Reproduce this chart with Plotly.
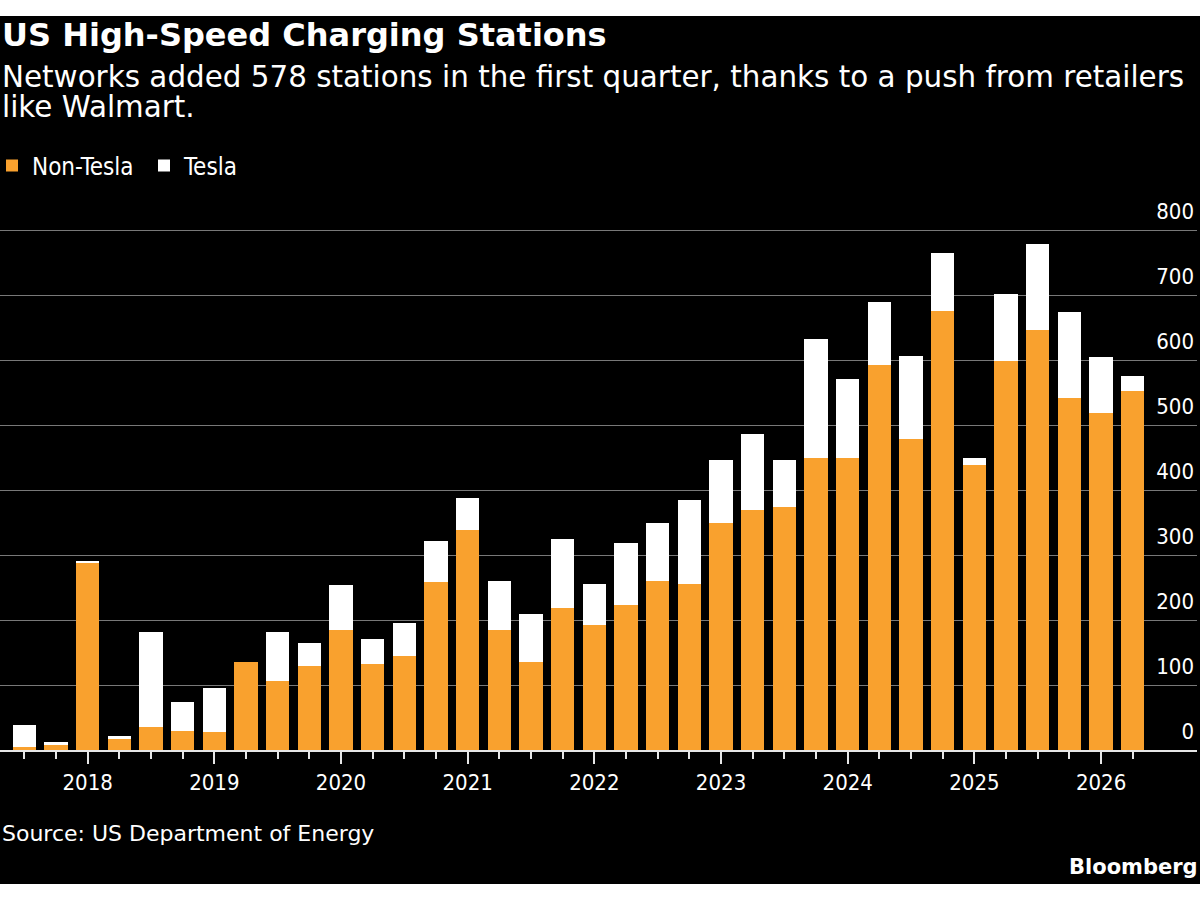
import plotly.graph_objects as go

# ---- data ----
quarters = [
    "2017 Q3", "2017 Q4", "2018 Q1", "2018 Q2", "2018 Q3", "2018 Q4",
    "2019 Q1", "2019 Q2", "2019 Q3", "2019 Q4", "2020 Q1", "2020 Q2",
    "2020 Q3", "2020 Q4", "2021 Q1", "2021 Q2", "2021 Q3", "2021 Q4",
    "2022 Q1", "2022 Q2", "2022 Q3", "2022 Q4", "2023 Q1", "2023 Q2",
    "2023 Q3", "2023 Q4", "2024 Q1", "2024 Q2", "2024 Q3", "2024 Q4",
    "2025 Q1", "2025 Q2", "2025 Q3", "2025 Q4", "2026 Q1", "2026 Q2",
]
non_tesla = [
    5, 8, 289, 17, 35, 29, 27, 136, 106, 130, 185, 133,
    144, 258, 339, 184, 136, 218, 193, 223, 260, 255, 350, 370,
    374, 450, 450, 593, 478, 675, 439, 598, 646, 542, 518, 553,
]
tesla = [
    33, 5, 2, 5, 147, 45, 69, 0, 76, 34, 69, 38,
    52, 63, 49, 76, 73, 106, 63, 95, 90, 129, 96, 116,
    72, 182, 121, 96, 128, 89, 10, 103, 132, 132, 86, 23,
]
year_ticks = ["2018 Q1", "2019 Q1", "2020 Q1", "2021 Q1", "2022 Q1",
              "2023 Q1", "2024 Q1", "2025 Q1", "2026 Q1"]
year_labels = ["2018", "2019", "2020", "2021", "2022", "2023", "2024", "2025", "2026"]
y_ticks = [0, 100, 200, 300, 400, 500, 600, 700, 800]

# ---- styling ----
ORANGE = "#F9A12E"
WHITE = "#FFFFFF"
FONT_C = "DejaVu Sans Condensed, DejaVu Sans, sans-serif"
FONT = "DejaVu Sans, sans-serif"
W, H = 1200, 900
M_L, M_R, M_T, M_B = 0, 3, 180, 150
PLOT_H = H - M_T - M_B
PLOT_W = W - M_L - M_R


def py(pix):
    """pixel row -> paper y"""
    return (H - M_B - pix) / PLOT_H


def px(pix):
    return (pix - M_L) / PLOT_W


xpos = list(range(len(quarters)))
year_pos = [quarters.index(q) for q in year_ticks]

fig = go.Figure()
fig.add_trace(go.Bar(x=xpos, y=non_tesla, name="Non-Tesla",
                     marker=dict(color=ORANGE, line=dict(width=0))))
fig.add_trace(go.Bar(x=xpos, y=tesla, name="Tesla",
                     marker=dict(color=WHITE, line=dict(width=0))))

fig.update_layout(
    width=W, height=H,
    margin=dict(l=M_L, r=M_R, t=M_T, b=M_B, pad=0, autoexpand=False),
    barmode="stack",
    bargap=0.263,
    paper_bgcolor="white",
    plot_bgcolor="rgba(0,0,0,0)",
    font=dict(family=FONT_C, color=WHITE, size=22),
    showlegend=True,
    legend=dict(orientation="h", x=px(-8), xanchor="left", y=py(166), yanchor="middle",
                font=dict(size=24, color=WHITE, family=FONT_C),
                entrywidth=107, entrywidthmode="pixels",
                bgcolor="rgba(0,0,0,0)", traceorder="normal",
                itemclick=False, itemdoubleclick=False),
    xaxis=dict(
        range=[-24.3 / 31.67, -24.3 / 31.67 + PLOT_W / 31.67],
        tickmode="array", tickvals=year_pos, ticktext=year_labels,
        ticks="outside", ticklen=12, tickwidth=1.5, tickcolor="#e6e6e6",
        showline=True, linecolor="#e6e6e6", linewidth=1.5,
        showgrid=False, zeroline=False,
        tickfont=dict(size=22, color=WHITE, family=FONT_C),
        minor=dict(ticks="outside", ticklen=7, tickwidth=1.5, tickcolor="#e6e6e6",
                   dtick=1, tick0=0, showgrid=False),
        fixedrange=True,
    ),
    yaxis=dict(
        range=[0, PLOT_H / 0.65],
        side="right",
        tickmode="array", tickvals=y_ticks,
        ticklabelposition="inside top",
        ticklabelshift=-3,
        showgrid=True, gridcolor="#787878", gridwidth=1,
        zeroline=False, showline=False, ticks="",
        tickfont=dict(size=22, color=WHITE, family=FONT_C),
        fixedrange=True,
    ),
    shapes=[dict(type="rect", xref="paper", yref="paper",
                 x0=-0.01, x1=1.01, y0=py(884), y1=py(16),
                 fillcolor="black", line=dict(width=0), layer="below")],
)

ann = dict(xref="paper", yref="paper", showarrow=False, xanchor="left",
           yanchor="middle")
annotations = [
    dict(ann, x=px(0), y=py(35), text="<b>US High-Speed Charging Stations</b>",
         font=dict(family=FONT, color=WHITE, size=32)),
    dict(ann, x=px(0), y=py(77),
         text="Networks added 578 stations in the first quarter, thanks to a push from retailers",
         font=dict(family=FONT, color=WHITE, size=29.4)),
    dict(ann, x=px(0), y=py(107.5), text="like Walmart.",
         font=dict(family=FONT, color=WHITE, size=29.4)),
    dict(ann, x=px(0), y=py(833), text="Source: US Department of Energy",
         font=dict(family=FONT, color=WHITE, size=22)),
    dict(ann, x=px(1200), xanchor="right", y=py(867), text="<b>Bloomberg</b>",
         font=dict(family=FONT, color=WHITE, size=21)),
]
fig.update_layout(annotations=annotations)

fig.write_html("out.html")
